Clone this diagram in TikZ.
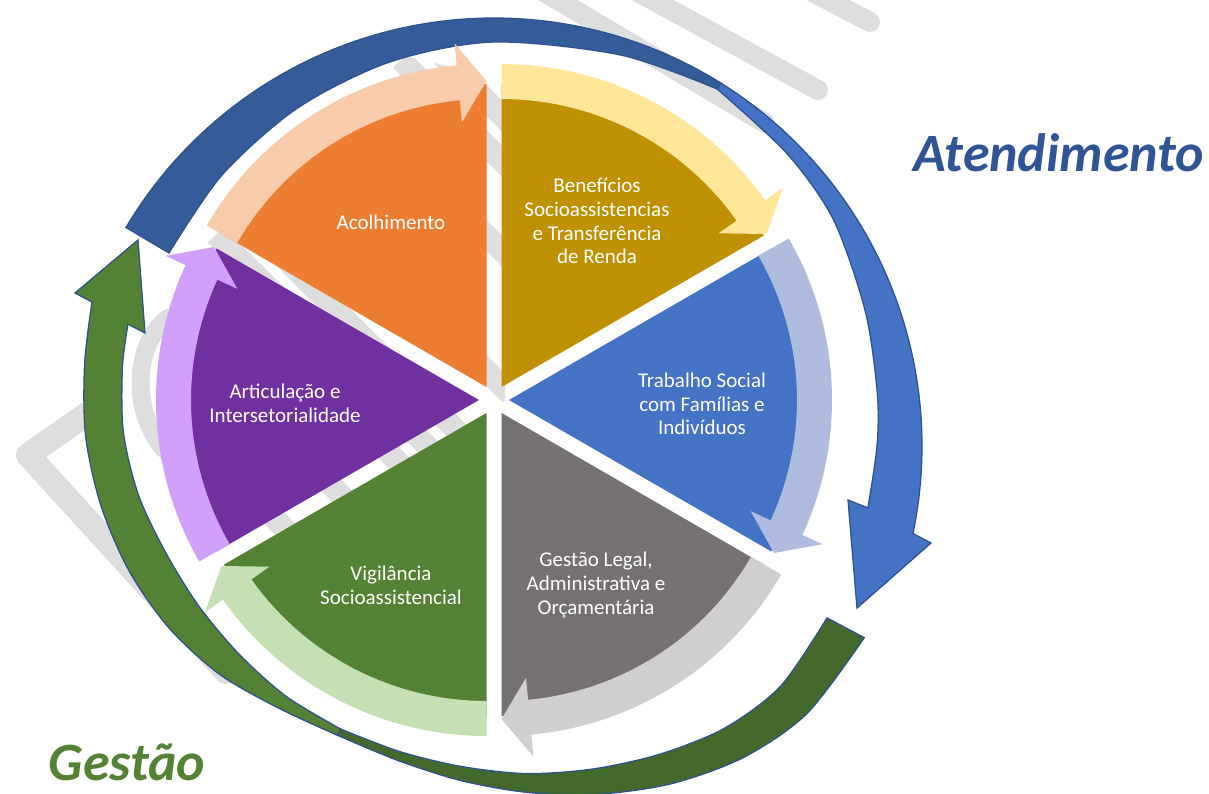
\documentclass[tikz,border=0pt]{standalone}
\usepackage{fontspec}
\setmainfont{Carlito}
\definecolor{cOrange}{HTML}{ED7D31}
\definecolor{cOrangeL}{HTML}{F8CBAD}
\definecolor{cGold}{HTML}{BF9000}
\definecolor{cGoldL}{HTML}{FFE699}
\definecolor{cBlue}{HTML}{4472C4}
\definecolor{cBlueL}{HTML}{B0BCDF}
\definecolor{cGray}{HTML}{767171}
\definecolor{cGrayL}{HTML}{D0CECE}
\definecolor{cGreen}{HTML}{548235}
\definecolor{cGreenL}{HTML}{C5E0B4}
\definecolor{cPurple}{HTML}{7030A0}
\definecolor{cPurpleL}{HTML}{D0A0FB}
\definecolor{cRingDark}{HTML}{355C99}
\definecolor{cRingLine}{HTML}{2F528F}
\definecolor{cGreenDark}{HTML}{44692C}
\definecolor{cWm}{HTML}{DEDEDE}
\definecolor{cTitleBlue}{HTML}{2F5597}
\begin{document}
\begin{tikzpicture}[x=1pt,y=-1pt,
  wm/.style={draw=cWm, line cap=round, line join=round},
  ring/.style={draw=cRingLine, line width=1.3pt, line join=miter},
  lbl/.style={text=white, align=center, font=\fontsize{21}{23.7}\selectfont},
  title/.style={font=\fontsize{54}{62}\selectfont\bfseries\itshape, anchor=base, inner sep=0pt}]
\useasboundingbox (0,0) rectangle (1209,794);
\fill[white] (0,0) rectangle (1209,794);

% ---------- watermark ----------
\begin{scope}
  \clip (205,245) -- (405,56) -- (505,80) -- (505,400) -- (470,430) -- (255,545) -- (205,400) -- cycle;
  \foreach \k in {0,1,3,6,8,9,10,12,14}{
    \pgfmathsetmacro\hc{-386+45*\k}
    \draw[wm, line width=22pt] (100,{100+\hc}) -- (600,{600+\hc});
  }
\end{scope}
\draw[wm, line width=20pt] (541,-10) -- (765,123);
\draw[wm, line width=20pt] (625,-15) -- (818,90);
\draw[wm, line width=20pt] (805,-12) -- (870,22);
\draw[wm, line width=24pt] (100,405) -- (28,455) -- (226,672);
\draw[wm, line width=18pt] (168,318) .. controls (132,345) and (132,415) .. (165,450);

% ---------- big blue ring (Atendimento) ----------
\filldraw[fill=cRingDark, ring]
  plot[domain=149.3:58, samples=80] ({494+428*cos(\x)},{446-428*sin(\x)})
  -- plot[smooth] coordinates {(717.1,89.0) (621.0,55.1) (494,42) (391.0,61.6) (298.5,107.4) (222.5,174.5) (169.0,253.0)}
  -- cycle;
\filldraw[fill=cBlue, ring]
  plot[domain=58:-11.8, samples=60] ({494+428*cos(\x)},{446-428*sin(\x)})
  -- (931,543) -- (857,608) -- (848,500) -- (867.9,507.9)
  -- plot[smooth] coordinates {(867.9,507.9) (877,446) (877.2,392.1) (865.2,310.9) (833.4,219.6) (786.7,153.3) (717.1,89.0)}
  -- cycle;

% ---------- big green ring (Gestao) ----------
\begin{scope}[shift={(494,400)}]
\filldraw[fill=cGreenDark, ring]
  plot[smooth] coordinates {(32.7:440) (45:443) (55:436) (65:423) (75:408) (85:394) (95:382) (105:373) (115:370)}
  -- (115:363)
  -- plot[smooth] coordinates {(115:363) (105:364) (95:368) (85:375) (75:382) (65:391) (55:401) (45:405) (33.2:398)}
  -- cycle;
\filldraw[fill=cGreen, ring]
  plot[smooth] coordinates {(115:370) (125:376) (135:388) (145:397) (155:403) (165:407) (175:410) (185:411) (193.7:413.8)}
  -- (-419,-107) -- (-356,-160) -- (-349,-67) -- (191.7:373.8)
  -- plot[smooth] coordinates {(191.7:373.8) (185:373) (175:372) (165:368) (155:362) (145:360) (135:360) (125:362) (115:363)}
  -- cycle;
\end{scope}

% ---------- wedges with their arrows ----------
\foreach \a/\bb/\wc/\bc in {90/150/cOrange/cOrangeL, 30/90/cGold/cGoldL, -30/30/cBlue/cBlueL, -90/-30/cGray/cGrayL, -150/-90/cGreen/cGreenL, 150/210/cPurple/cPurpleL}{
  \pgfmathsetmacro\bis{(\a+\bb)/2}
  \pgfmathsetmacro\wsx{494+15*cos(\bis)}
  \pgfmathsetmacro\wsy{400-15*sin(\bis)}
  \pgfmathsetmacro\ah{\a+5.3}
  \fill[\wc] (\wsx,\wsy) -- plot[domain=\a:\bb, samples=60] ({\wsx+303*cos(\x)},{\wsy-303*sin(\x)}) -- cycle;
  \fill[\bc] plot[domain=\bb:\ah, samples=60] ({\wsx+323*cos(\x)},{\wsy-323*sin(\x)})
    -- ({\wsx+345*cos(\ah)},{\wsy-345*sin(\ah)})
    -- ({\wsx+306*cos(\a)},{\wsy-306*sin(\a)})
    -- ({\wsx+266*cos(\ah)},{\wsy-266*sin(\ah)})
    -- ({\wsx+288*cos(\ah)},{\wsy-288*sin(\ah)})
    -- plot[domain=\ah:\bb, samples=60] ({\wsx+288*cos(\x)},{\wsy-288*sin(\x)})
    -- cycle;
}

% ---------- labels ----------
\node[lbl] (acol) at (391,222) {Acolhimento};
\node[lbl] (bene) at (597,221) {Benefícios\\Socioassistencias\\e Transferência\\de Renda};
\node[lbl] (trab) at (702,404) {Trabalho Social\\com Famílias e\\Indivíduos};
\node[lbl] (gleg) at (596,585) {Gestão Legal,\\Administrativa e\\Orçamentária};
\node[lbl] (vigi) at (391,585) {Vigilância\\Socioassistencial};
\node[lbl] (arti) at (285,403) {Articulação e\\Intersetorialidade};
\node[title, text=cTitleBlue] (aten) at (1059,172) {Atendimento};
\node[title, text=cGreen] (gtit) at (127,780) {Gestão};
\end{tikzpicture}
\end{document}
